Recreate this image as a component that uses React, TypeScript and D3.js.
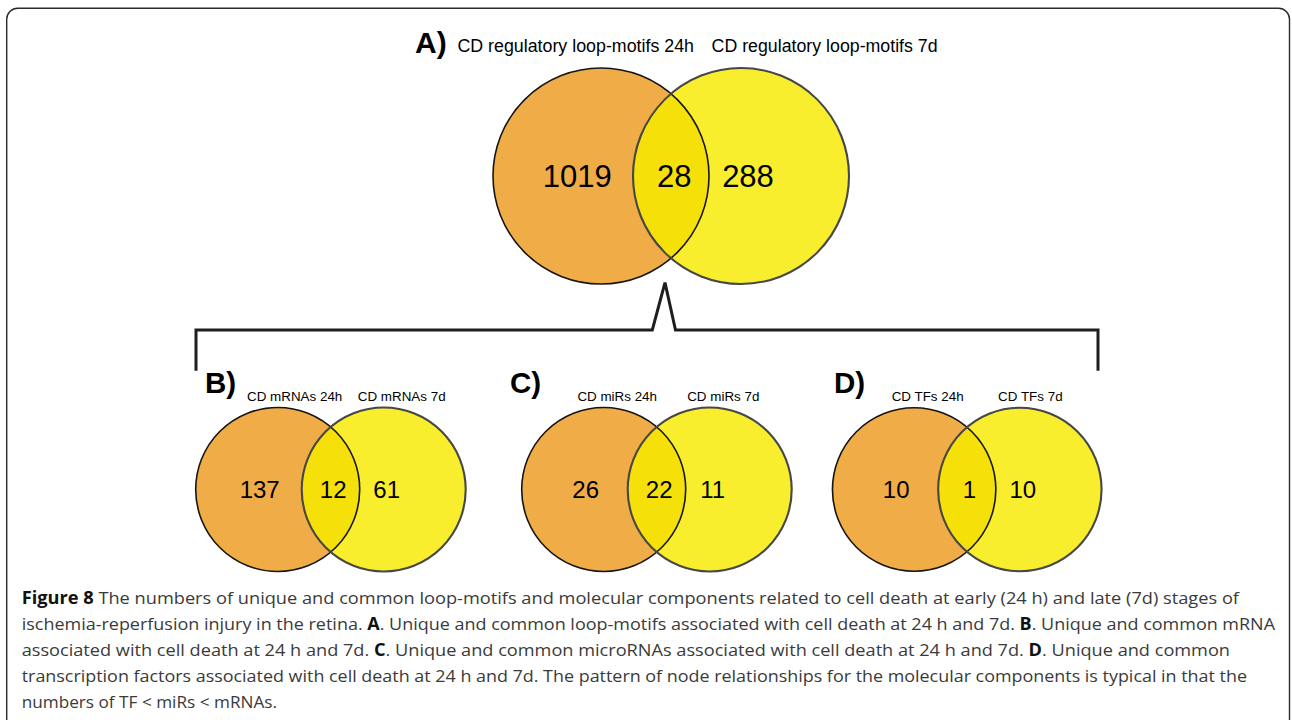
import React from "react";
import { path } from "d3";

// Venn panels: A (loop-motifs), then B, C, D (components)
const panelLetters = ["A)", "B)", "C)", "D)"];
const leftLabels = [
  "CD regulatory loop-motifs 24h",
  "CD mRNAs 24h",
  "CD miRs 24h",
  "CD TFs 24h"
];
const rightLabels = [
  "CD regulatory loop-motifs 7d",
  "CD mRNAs 7d",
  "CD miRs 7d",
  "CD TFs 7d"
];
const leftOnly = [1019, 137, 26, 10];
const common = [28, 12, 22, 1];
const rightOnly = [288, 61, 11, 10];

// caption lines, segments flagged bold
const captionLines: [string, boolean][][] = [
  [
    ["Figure 8", true],
    [
      " The numbers of unique and common loop-motifs and molecular components related to cell death at early (24 h) and late (7d) stages of",
      false
    ]
  ],
  [
    ["ischemia-reperfusion injury in the retina. ", false],
    ["A", true],
    [". Unique and common loop-motifs associated with cell death at 24 h and 7d. ", false],
    ["B", true],
    [". Unique and common mRNA", false]
  ],
  [
    ["associated with cell death at 24 h and 7d. ", false],
    ["C", true],
    [". Unique and common microRNAs associated with cell death at 24 h and 7d. ", false],
    ["D", true],
    [". Unique and common", false]
  ],
  [
    [
      "transcription factors associated with cell death at 24 h and 7d. The pattern of node relationships for the molecular components is typical in that the",
      false
    ]
  ],
  [["numbers of TF < miRs < mRNAs.", false]]
];

const ORANGE = "#F0AC46";
const YELLOW = "#F8EE2E";
const OVERLAP = "#F5E00A";
const VENN_FONT = "'Liberation Sans', Arial, Helvetica, sans-serif";
const CAP_FONT = "'Open Sans', 'Noto Sans', sans-serif";

// layout of each panel: centre of the pair, radius, distance between centres
const layout = [
  { cx: 671, cy: 176, r: 108, d: 140, letterX: 415, letterY: 53, labelY: 52, numSize: 31 },
  { cx: 330.7, cy: 489.5, r: 82, d: 106, letterX: 205, letterY: 393, labelY: 400.7, numSize: 24 },
  { cx: 656.7, cy: 489.5, r: 82, d: 106, letterX: 510, letterY: 393, labelY: 400.7, numSize: 24 },
  { cx: 967, cy: 489.5, r: 81.7, d: 105.7, letterX: 834, letterY: 393, labelY: 400.7, numSize: 24 }
];

// right end of each justified caption line (last line is left ragged)
const captionEnds = [1239, 1275, 1230, 1247, null];

const Venn: React.FC<{ i: number }> = ({ i }) => {
  const L = layout[i];
  const lx = L.cx - L.d / 2;
  const rx = L.cx + L.d / 2;
  const numY = L.cy + L.numSize * 0.37;
  const big = i === 0;
  const clipId = `clip-left-${i}`;

  return (
    <g>
      <defs>
        <clipPath id={clipId}>
          <circle cx={lx} cy={L.cy} r={L.r} />
        </clipPath>
      </defs>
      <circle cx={lx} cy={L.cy} r={L.r} fill={ORANGE} />
      <circle cx={rx} cy={L.cy} r={L.r} fill={YELLOW} />
      <circle cx={rx} cy={L.cy} r={L.r} fill={OVERLAP} clipPath={`url(#${clipId})`} />
      <circle cx={lx} cy={L.cy} r={L.r} fill="none" stroke="#151515" strokeWidth={1.6} />
      <circle cx={rx} cy={L.cy} r={L.r} fill="none" stroke="#474747" strokeWidth={2.1} />

      <g fontFamily={VENN_FONT} fill="#000" textAnchor="middle" fontSize={L.numSize}>
        <text x={lx - L.r * 0.22} y={numY}>{leftOnly[i]}</text>
        <text x={L.cx + L.r * 0.03} y={numY}>{common[i]}</text>
        <text x={rx + (big ? 7 : 3)} y={numY}>{rightOnly[i]}</text>
      </g>

      <text
        x={L.letterX}
        y={L.letterY}
        fontFamily={VENN_FONT}
        fontWeight="bold"
        fontSize={big ? 30 : 29.5}
      >
        {panelLetters[i]}
      </text>
      {big ? (
        <g fontFamily={VENN_FONT} fontSize={17.5}>
          <text x={457.4} y={L.labelY} textLength={236.6} lengthAdjust="spacingAndGlyphs">
            {leftLabels[i]}
          </text>
          <text x={711.6} y={L.labelY} textLength={226} lengthAdjust="spacingAndGlyphs">
            {rightLabels[i]}
          </text>
        </g>
      ) : (
        <g fontFamily={VENN_FONT} fontSize={13.4} textAnchor="middle">
          <text x={lx + (i === 1 ? 17 : 13.5)} y={L.labelY}>{leftLabels[i]}</text>
          <text x={rx + (i === 3 ? 10.5 : i === 1 ? 18 : 13.6)} y={L.labelY}>{rightLabels[i]}</text>
        </g>
      )}
    </g>
  );
};

export default function App() {
  const W = 1292;
  const H = 720;

  // bracket linking panel A with the three component panels
  const bracket = path();
  bracket.moveTo(196, 370.7);
  bracket.lineTo(196, 330);
  bracket.lineTo(652.3, 330);
  bracket.lineTo(665, 282.7);
  bracket.lineTo(675.5, 330);
  bracket.lineTo(1098, 330);
  bracket.lineTo(1098, 370.7);

  const capX = 21.7;
  const capY0 = 603.5;
  const capDy = 26.2;

  return (
    <svg
      width={W}
      height={H}
      viewBox={`0 0 ${W} ${H}`}
      style={{ position: "absolute", left: 0, top: 0, background: "#fff" }}
    >
      <rect x={0} y={0} width={W} height={H} fill="#fff" />
      <rect
        x={6.7}
        y={8.3}
        width={1282.8}
        height={740}
        rx={11}
        fill="none"
        stroke="#2a2a2a"
        strokeWidth={1.4}
      />

      {layout.map((_, i) => (
        <Venn key={i} i={i} />
      ))}

      <path
        d={bracket.toString()}
        fill="none"
        stroke="#1e1e1e"
        strokeWidth={3}
        strokeLinejoin="miter"
      />

      <g fontFamily={CAP_FONT} fontSize={17.2}>
        {captionLines.map((segs, li) => {
          const end = captionEnds[li];
          return (
            <text
              key={li}
              x={capX}
              y={capY0 + li * capDy}
              textLength={end ? end - capX : undefined}
              lengthAdjust={end ? "spacingAndGlyphs" : undefined}
            >
              {segs.map(([s, b], si) => (
                <tspan key={si} fontWeight={b ? 700 : 400} fill={b ? "#111" : "#3a3a3a"}>
                  {s}
                </tspan>
              ))}
            </text>
          );
        })}
      </g>
    </svg>
  );
}
